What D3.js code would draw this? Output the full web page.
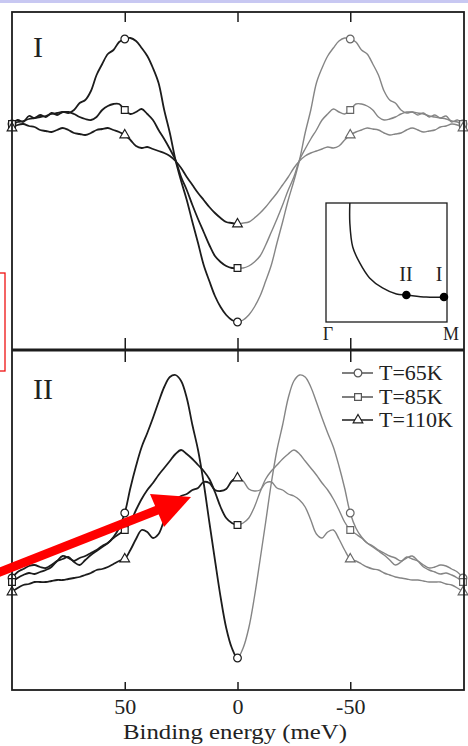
<!DOCTYPE html>
<html><head><meta charset="utf-8">
<script src="https://cdn.jsdelivr.net/npm/d3@7"></script>
<style>
html,body{margin:0;padding:0;background:#fff;}
svg{display:block;}
</style></head><body>
<svg id="chart" width="468" height="746"></svg>
<script>
// ---------------- data ----------------
const energies = [100,97.5,95,92.5,90,87.5,85,82.5,80,77.5,75,72.5,70,67.5,65,62.5,60,57.5,55,52.5,50,47.5,45,42.5,40,37.5,35,32.5,30,27.5,25,22.5,20,17.5,15,12.5,10,7.5,5,2.5,0,-2.5,-5,-7.5,-10,-12.5,-15,-17.5,-20,-22.5,-25,-27.5,-30,-32.5,-35,-37.5,-40,-42.5,-45,-47.5,-50,-52.5,-55,-57.5,-60,-62.5,-65,-67.5,-70,-72.5,-75,-77.5,-80,-82.5,-85,-87.5,-90,-92.5,-95,-97.5,-100];

// Panel I (point I, near M) – symmetrized intensity, arb. units
const panelI_65K = [113,115,114,117,116,117.5,116.5,118.5,117.5,119,118.5,120,123.5,125,129.5,137.5,143,148,150,154,155.5,156,154.5,151,147,141,133.5,120,108.5,95,84.5,75,64,53.5,42.5,34.5,27,21.5,17.5,15,14,
  15,17.5,21.5,27,34.5,42.5,53.5,64,75,84.5,95,108.5,120,133.5,141,147,151,154.5,156,155.5,154,150,148,143,137.5,129.5,125,123.5,120,118.5,119,117.5,118.5,116.5,117.5,116,117,114,115,113];
const panelI_85K = [113,114,114.5,115.5,116,116.5,117,118,118.5,119,119,118,116.5,115.5,115,116.5,120,122,123,123,120,118,119,120.5,118,115,110,105.5,100.5,95,86.5,80,72.5,65.5,59,52.5,47,44,42,41,41,
  41,42,44,47,52.5,59,65.5,72.5,80,86.5,95,100.5,105.5,110,115,118,120.5,119,118,120,123,123,122,120,116.5,115,115.5,116.5,118,119,119,118.5,118,117,116.5,116,115.5,114.5,114,113];
const panelI_110K = [111,112.5,113,112,111.5,110,109.5,109,110,111,110,108.5,108,107.5,108.5,110,110.5,111,110,109,107.5,105,102,101,101.5,100.5,99.5,98.5,97,94.5,91,86.5,82.5,78.5,75,71.5,68.5,66,64,63.5,63,
  63.5,64,66,68.5,71.5,75,78.5,82.5,86.5,91,94.5,97,98.5,99.5,100.5,101.5,101,102,105,107.5,109,110,111,110.5,110,108.5,107.5,108,108.5,110,111,110,109,109.5,110,111.5,112,113,112.5,111];

// Panel II (point II)
const panelII_65K = [56,59,60.5,62,62.5,61.5,61,62.5,64.5,65.5,66.5,64,62.5,65,67.5,69.5,71.5,73.5,76.5,81,88.5,101,112,121.5,128.5,136,144,151.5,156.5,157.5,154.5,146,132.5,120,103.5,84,65,46.5,31,21,16,
  21,31,46.5,65,84,103.5,120,132.5,146,154.5,157.5,156.5,151.5,144,136,128.5,121.5,112,101,88.5,81,76.5,73.5,71.5,69.5,67.5,65,62.5,64,66.5,65.5,64.5,62.5,61,61.5,62.5,62,60.5,59,56];
const panelII_85K = [54,56,57.5,58.5,58,59,60,61.5,64.5,67,66,64.5,66,67,68.5,70,72,73.5,76,78,80,84,90,95.5,100,103.5,107.5,111,114.5,118,120,118,115.5,112.5,109.5,105.5,99,91.5,86,83.5,82.5,
  83.5,86,91.5,99,105.5,109.5,112.5,115.5,118,120,118,114.5,111,107.5,103.5,100,95.5,90,84,80,78,76,73.5,72,70,68.5,67,66,64.5,66,67,64.5,61.5,60,59,58,58.5,57.5,56,54];
const panelII_110K = [49,51,52.5,53,54,54,54,54.5,55,55,55.5,56,56.5,57.5,58.5,60,60.5,61.5,63,64.5,65.5,70,75.5,80,79,76,78,85,91.5,95,97,98,100,101,104,103.5,100,99.5,100.5,104.5,106,
  104.5,100.5,99.5,100,103.5,104,101,100,98,97,95,91.5,85,78,76,79,80,75.5,70,65.5,64.5,63,61.5,60.5,60,58.5,57.5,56.5,56,55.5,55,55,54.5,54,54,54,53,52.5,51,49];

const seriesLabels = ["T=65K", "T=85K", "T=110K"];
const seriesShapes = ["circle", "square", "triangle"];
const markerEnergies = [100, 50, 0, -50, -100];
const tickValues = [50, 0, -50];
const panelLabels = ["I", "II"];
const xTitle = "Binding energy (meV)";

// inset: Brillouin-zone quadrant, Fermi surface (kx, ky in units of Γ–M)
const fsKx = [0.197,0.197,0.221,0.279,0.36,0.467,0.582,0.664,0.828,1.0];
const fsKy = [1.0,0.832,0.63,0.496,0.37,0.286,0.235,0.227,0.21,0.21];
const kPointKx = [0.664, 0.975];
const kPointKy = [0.227, 0.21];
const kPointLabels = ["II", "I"];
const cornerLabels = ["Γ", "M"];

// ---------------- drawing ----------------
const W = 468, H = 746;
const svg = d3.select("#chart");
const serif = "Liberation Serif, Times New Roman, serif";
const dark = "#1c1c1c", light = "#858585";

const x = d3.scaleLinear().domain([100, -100]).range([12, 463]);
const yI = d3.scaleLinear().domain([0, 169]).range([350, 12]);
const yII = d3.scaleLinear().domain([0, 170]).range([690, 350]);
const frame = {l: 12, r: 464, t: 12, m: 350, b: 690};
const xMid = x(0);

svg.append("rect").attr("x", 0).attr("y", 0).attr("width", W).attr("height", 3).attr("fill", "#c8c8f2");

const defs = svg.append("defs");
defs.append("clipPath").attr("id", "clipL").append("rect")
  .attr("x", 0).attr("y", 0).attr("width", xMid + 1).attr("height", H);
defs.append("clipPath").attr("id", "clipR").append("rect")
  .attr("x", xMid + 1).attr("y", 0).attr("width", W - xMid).attr("height", H);

const panels = [
  {y: yI, data: [panelI_65K, panelI_85K, panelI_110K]},
  {y: yII, data: [panelII_65K, panelII_85K, panelII_110K]}
];

function marker(g, shape, cx, cy, color) {
  const type = shape === "circle" ? d3.symbolCircle : shape === "square" ? d3.symbolSquare : d3.symbolTriangle;
  const size = shape === "circle" ? 46 : shape === "square" ? 46 : 40;
  g.append("path").attr("d", d3.symbol().type(type).size(size)())
    .attr("transform", `translate(${cx},${cy})`)
    .attr("fill", "#fff").attr("stroke", color).attr("stroke-width", 1.2);
}

const gData = svg.append("g");
panels.forEach(p => {
  const line = d3.line().x((d, i) => x(energies[i])).y(d => p.y(d)).curve(d3.curveCatmullRom.alpha(0.5));
  p.data.forEach((vals, si) => {
    gData.append("path").attr("d", line(vals)).attr("clip-path", "url(#clipL)")
      .attr("fill", "none").attr("stroke", dark).attr("stroke-width", 1.8).attr("stroke-linejoin", "round");
    gData.append("path").attr("d", line(vals)).attr("clip-path", "url(#clipR)")
      .attr("fill", "none").attr("stroke", light).attr("stroke-width", 1.4).attr("stroke-linejoin", "round");
  });
  p.data.forEach((vals, si) => {
    markerEnergies.forEach(e => {
      const i = energies.indexOf(e);
      marker(gData, seriesShapes[si], x(e), p.y(vals[i]), e < 0 ? "#666" : dark);
    });
  });
});

// frame
svg.append("rect").attr("x", frame.l).attr("y", frame.t).attr("width", frame.r - frame.l).attr("height", frame.b - frame.t)
  .attr("fill", "none").attr("stroke", dark).attr("stroke-width", 1.8);
svg.append("line").attr("x1", frame.l).attr("x2", frame.r).attr("y1", frame.m).attr("y2", frame.m)
  .attr("stroke", dark).attr("stroke-width", 3);

// ticks
function ticks(axis, yPos) {
  const g = svg.append("g").attr("transform", `translate(0,${yPos})`).call(axis);
  g.select(".domain").remove();
  g.selectAll("line").attr("stroke", dark).attr("stroke-width", 1.5);
  return g;
}
ticks(d3.axisBottom(x).tickValues(tickValues).tickSize(10).tickFormat(""), frame.t);
ticks(d3.axisBottom(x).tickValues(tickValues).tickSize(12).tickFormat(""), frame.m);
ticks(d3.axisTop(x).tickValues(tickValues).tickSize(12).tickFormat(""), frame.m);
ticks(d3.axisTop(x).tickValues(tickValues).tickSize(8).tickFormat(""), frame.b);
const lab = ticks(d3.axisBottom(x).tickValues(tickValues).tickSize(0).tickPadding(8).tickFormat(d => String(d)), frame.b);
lab.selectAll("text").attr("font-family", serif).attr("font-size", 22).attr("fill", "#222");

svg.append("text").attr("x", 235).attr("y", 739).attr("text-anchor", "middle")
  .attr("font-family", serif).attr("font-size", 22).attr("fill", "#222")
  .attr("textLength", 224).attr("lengthAdjust", "spacingAndGlyphs").text(xTitle);

// panel labels
svg.append("text").attr("x", 33).attr("y", 57).attr("font-family", serif).attr("font-size", 30).attr("fill", "#222").text(panelLabels[0]);
svg.append("text").attr("x", 33).attr("y", 399).attr("font-family", serif).attr("font-size", 30).attr("fill", "#222").text(panelLabels[1]);

// legend
const legY = [373, 397, 420];
seriesLabels.forEach((lbl, i) => {
  const c = i === 2 ? dark : "#555";
  svg.append("line").attr("x1", 342).attr("x2", 373).attr("y1", legY[i]).attr("y2", legY[i])
    .attr("stroke", c).attr("stroke-width", 1.5);
  marker(svg, seriesShapes[i], 358, legY[i], c);
  svg.append("text").attr("x", 379).attr("y", legY[i] + 7).attr("font-family", serif).attr("font-size", 22)
    .attr("fill", "#222").text(lbl);
});

// inset
const kx = d3.scaleLinear().domain([0, 1]).range([326, 447]);
const ky = d3.scaleLinear().domain([0, 1]).range([322, 203]);
const gi = svg.append("g");
gi.append("rect").attr("x", kx(0)).attr("y", ky(1)).attr("width", kx(1) - kx(0)).attr("height", ky(0) - ky(1))
  .attr("fill", "#fff").attr("stroke", dark).attr("stroke-width", 1.3);
const fsLine = d3.line().x((d, i) => kx(fsKx[i])).y(d => ky(d)).curve(d3.curveCatmullRom.alpha(0.5));
gi.append("path").attr("d", fsLine(fsKy)).attr("fill", "none").attr("stroke", dark).attr("stroke-width", 1.5);
kPointKx.forEach((k, i) => {
  gi.append("circle").attr("cx", kx(k)).attr("cy", ky(kPointKy[i])).attr("r", 4.3).attr("fill", "#000");
});
gi.append("text").attr("x", 406).attr("y", 281).attr("text-anchor", "middle").attr("font-family", serif).attr("font-size", 20).attr("fill", "#222").text(kPointLabels[0]);
gi.append("text").attr("x", 439).attr("y", 281).attr("text-anchor", "middle").attr("font-family", serif).attr("font-size", 20).attr("fill", "#222").text(kPointLabels[1]);
gi.append("text").attr("x", 328).attr("y", 340).attr("text-anchor", "middle").attr("font-family", serif).attr("font-size", 18).attr("fill", "#222").text(cornerLabels[0]);
gi.append("text").attr("x", 451).attr("y", 340).attr("text-anchor", "middle").attr("font-family", serif).attr("font-size", 18).attr("fill", "#222").text(cornerLabels[1]);

// red annotations
svg.append("rect").attr("x", -2).attr("y", 273).attr("width", 7).attr("height", 98)
  .attr("fill", "none").attr("stroke", "#ee1111").attr("stroke-width", 1.3);
svg.append("line").attr("x1", -5).attr("y1", 574).attr("x2", 160).attr("y2", 509)
  .attr("stroke", "#ff0000").attr("stroke-width", 9);
svg.append("path").attr("d", "M150,494 L191,497 L164,527 Z").attr("fill", "#ff0000");
</script>
</body></html>
